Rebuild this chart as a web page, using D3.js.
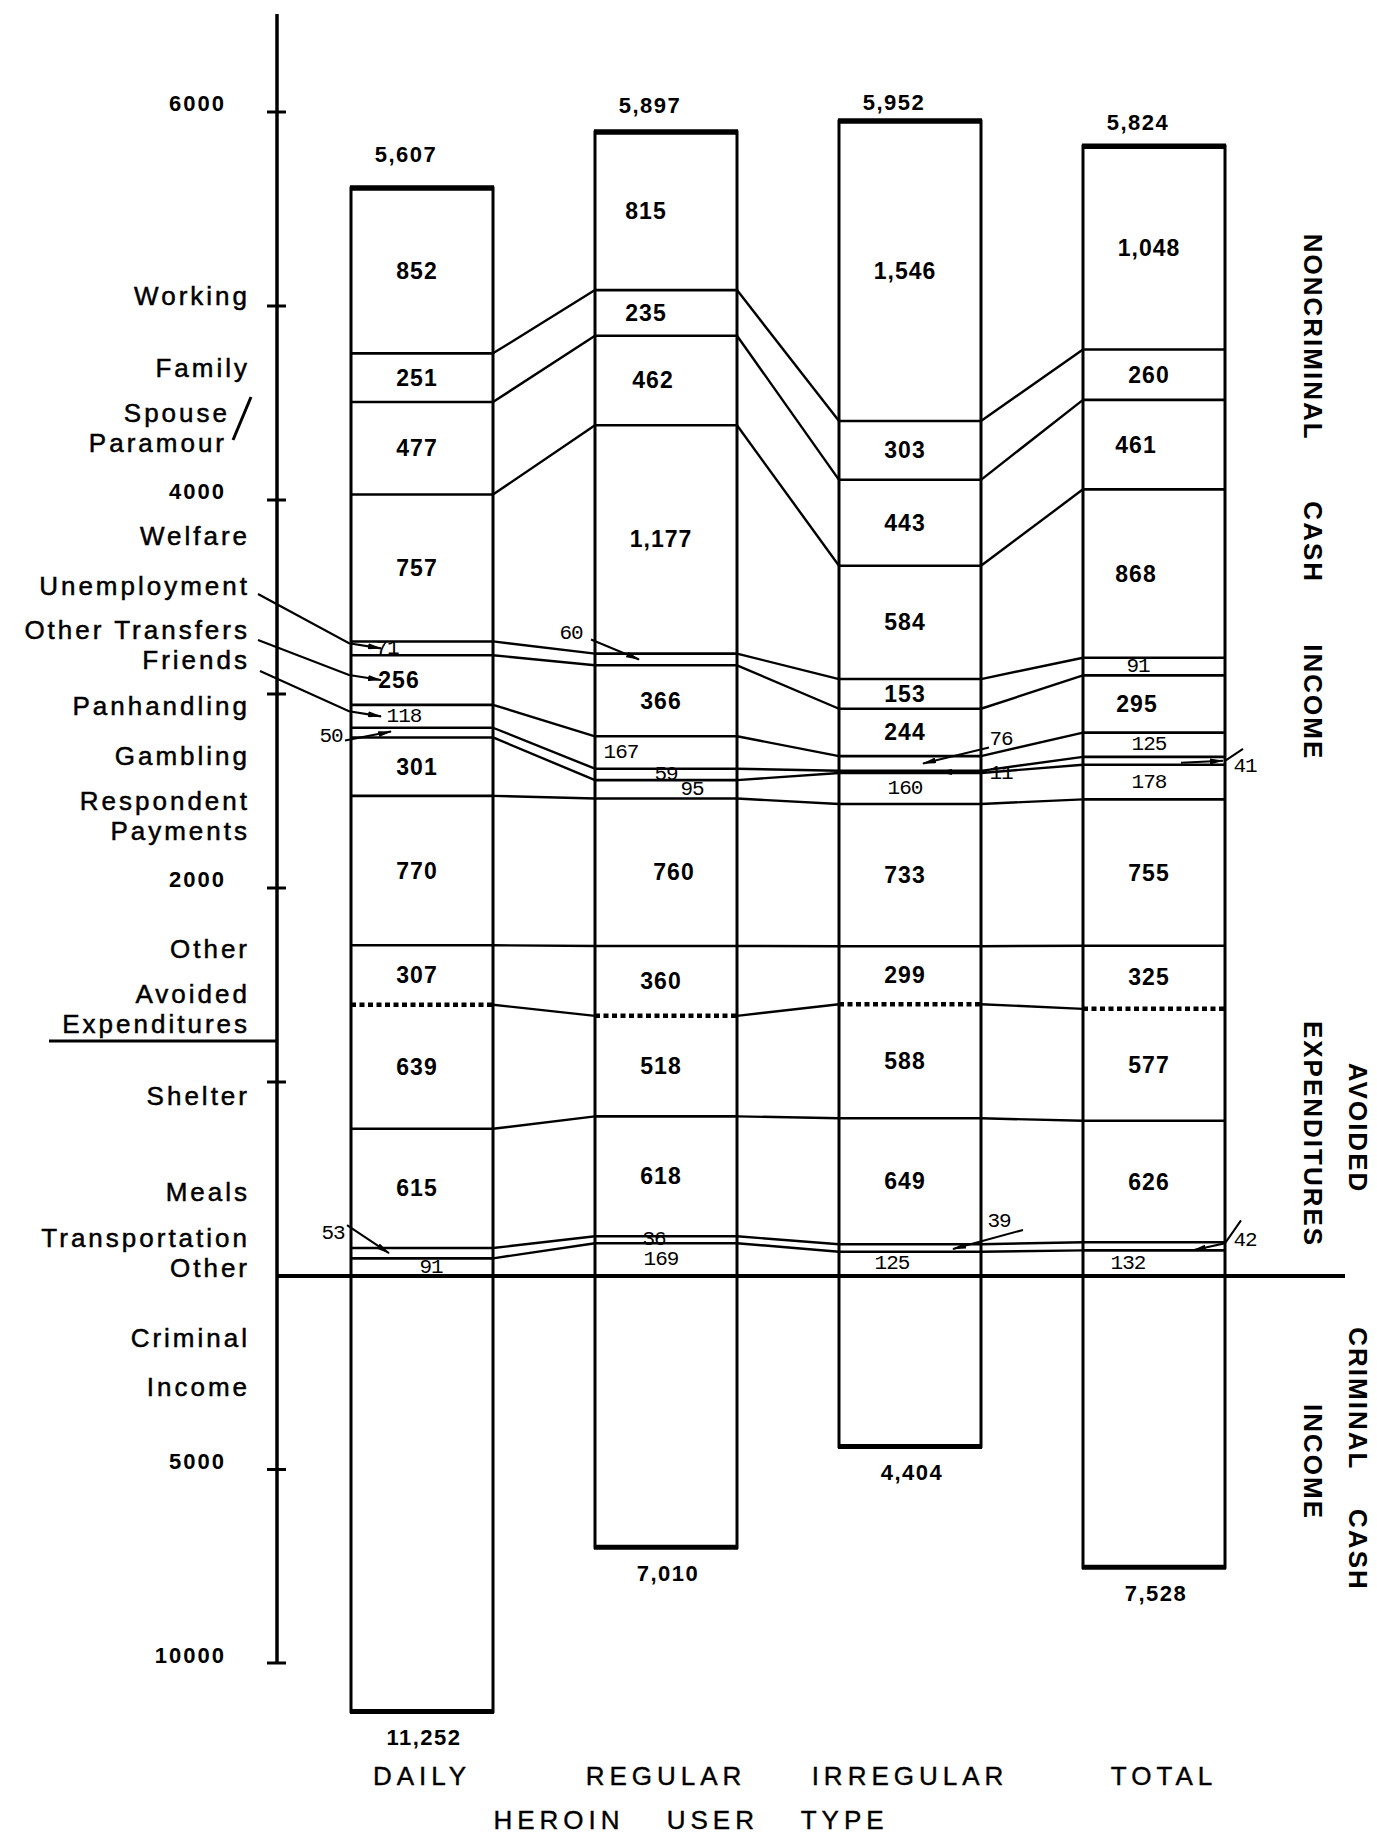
<!DOCTYPE html>
<html><head><meta charset="utf-8">
<script src="https://cdn.jsdelivr.net/npm/d3@7"></script>
<style>
body{margin:0;background:#fff;}
svg{display:block;}
</style></head><body>
<svg id="chart" width="1377" height="1837"></svg>
<script>
// ---------- DATA ----------
const categories = ["DAILY", "REGULAR", "IRREGULAR", "TOTAL"];
// components from bottom (first) to top (last); first 4 are avoided expenditures
const components = ["Other", "Transportation", "Meals", "Shelter",
  "Other", "Respondent Payments", "Gambling", "Panhandling", "Friends",
  "Other Transfers", "Unemployment", "Welfare", "Spouse/Paramour", "Family", "Working"];
const avoidedCount = 4;
const daily     = [91, 53, 615, 639, 307, 770, 301, 50, 118, 256, 71, 757, 477, 251, 852];
const regular   = [169, 36, 618, 518, 360, 760, 95, 59, 167, 366, 60, 1177, 462, 235, 815];
const irregular = [125, 39, 649, 588, 299, 733, 160, 11, 76, 244, 153, 584, 443, 303, 1546];
const total     = [132, 42, 626, 577, 325, 755, 178, 41, 125, 295, 91, 868, 461, 260, 1048];
const noncriminalTotals = [5607, 5897, 5952, 5824];
const criminalIncome = [11252, 7010, 4404, 7528];
const upperTicks = [1000, 2000, 3000, 4000, 5000, 6000];
const upperTickLabels = ["", "2000", "", "4000", "", "6000"];
const lowerTicks = [5000, 10000];
const lowerTickLabels = ["5000", "10000"];

// ---------- LAYOUT ----------
const W = 1377, H = 1837;
const y0 = 1276, axisX = 277;
const yUp = d3.scaleLinear().domain([0, 6000]).range([y0, 112]);
const yLow = d3.scaleLinear().domain([0, 10000]).range([y0, 1663]);
const x = d3.scaleBand().domain(categories).range([351, 1225]).paddingInner(0.418).paddingOuter(0);
const bw = x.bandwidth();
const left = i => x(categories[i]);
const right = i => x(categories[i]) + bw;
const cx = i => x(categories[i]) + bw / 2;

const series = [daily, regular, irregular, total];
const stacks = series.map(s => [0, ...d3.cumsum(s)]);
const mid = (i, k) => (yUp(stacks[i][k]) + yUp(stacks[i][k + 1])) / 2;
const fmt = d3.format(",");

const svg = d3.select("#chart");
svg.append("rect").attr("width", W).attr("height", H).attr("fill", "#fff");
const defs = svg.append("defs");
defs.append("marker").attr("id", "arrow").attr("viewBox", "0 0 14 6")
  .attr("refX", 13).attr("refY", 3).attr("markerWidth", 14).attr("markerHeight", 6)
  .attr("markerUnits", "userSpaceOnUse").attr("orient", "auto")
  .append("path").attr("d", "M0,0 L14,3 L0,6 Z").attr("fill", "#000");

const mainFont = "'Liberation Sans', Arial, sans-serif";
const typeFont = "'Liberation Mono', 'DejaVu Sans Mono', monospace";

// ---------- CONNECTORS ----------
const gConn = svg.append("g").attr("stroke", "#000").attr("stroke-width", 2.4).attr("fill", "none");
for (let i = 0; i < categories.length - 1; i++) {
  for (let k = 1; k < components.length; k++) {
    gConn.append("line")
      .attr("x1", right(i)).attr("y1", yUp(stacks[i][k]))
      .attr("x2", left(i + 1)).attr("y2", yUp(stacks[i + 1][k]));
  }
}

// ---------- BARS ----------
const gBars = svg.append("g");
categories.forEach((c, i) => {
  const top = stacks[i][components.length];
  for (let k = 1; k < components.length; k++) {
    const ln = gBars.append("line")
      .attr("x1", left(i)).attr("x2", right(i))
      .attr("y1", yUp(stacks[i][k])).attr("y2", yUp(stacks[i][k]))
      .attr("stroke", "#000");
    if (k === avoidedCount) ln.attr("stroke-width", 4.5).attr("stroke-dasharray", "5,3.5");
    else ln.attr("stroke-width", 2.6);
  }
  gBars.append("rect").attr("x", left(i)).attr("y", yUp(top))
    .attr("width", bw).attr("height", y0 - yUp(top))
    .attr("fill", "none").attr("stroke", "#000").attr("stroke-width", 3);
  gBars.append("line").attr("x1", left(i) - 1).attr("x2", right(i) + 1)
    .attr("y1", yUp(top)).attr("y2", yUp(top)).attr("stroke", "#000").attr("stroke-width", 5.5);
  gBars.append("rect").attr("x", left(i)).attr("y", y0)
    .attr("width", bw).attr("height", yLow(criminalIncome[i]) - y0)
    .attr("fill", "none").attr("stroke", "#000").attr("stroke-width", 3);
  gBars.append("line").attr("x1", left(i) - 1).attr("x2", right(i) + 1)
    .attr("y1", yLow(criminalIncome[i])).attr("y2", yLow(criminalIncome[i]))
    .attr("stroke", "#000").attr("stroke-width", 5);
});

// ---------- AXIS ----------
const gAxis = svg.append("g");
gAxis.append("line").attr("x1", axisX).attr("x2", axisX).attr("y1", 14).attr("y2", yLow(10000))
  .attr("stroke", "#000").attr("stroke-width", 3.5);
upperTicks.forEach((t, j) => {
  gAxis.append("line").attr("x1", axisX - 10).attr("x2", axisX + 9)
    .attr("y1", yUp(t)).attr("y2", yUp(t)).attr("stroke", "#000").attr("stroke-width", 3);
  if (upperTickLabels[j]) gAxis.append("text").attr("x", 226).attr("y", yUp(t) - 9)
    .attr("text-anchor", "end").attr("dominant-baseline", "central")
    .attr("font-family", mainFont).attr("font-weight", "bold").attr("font-size", 22)
    .attr("letter-spacing", 2).text(upperTickLabels[j]);
});
lowerTicks.forEach((t, j) => {
  gAxis.append("line").attr("x1", axisX - 10).attr("x2", axisX + 9)
    .attr("y1", yLow(t)).attr("y2", yLow(t)).attr("stroke", "#000").attr("stroke-width", 3);
  gAxis.append("text").attr("x", 226).attr("y", yLow(t) - 8)
    .attr("text-anchor", "end").attr("dominant-baseline", "central")
    .attr("font-family", mainFont).attr("font-weight", "bold").attr("font-size", 22)
    .attr("letter-spacing", 2).text(lowerTickLabels[j]);
});
svg.append("line").attr("x1", axisX).attr("x2", 1345).attr("y1", y0).attr("y2", y0)
  .attr("stroke", "#000").attr("stroke-width", 4);
svg.append("line").attr("x1", 49).attr("x2", axisX).attr("y1", 1041).attr("y2", 1041)
  .attr("stroke", "#000").attr("stroke-width", 3);

// ---------- LEFT COMPONENT LABELS ----------
const leftLabels = [
  {t: ["Working"], y: [296]},
  {t: ["Family"], y: [368]},
  {t: ["Spouse", "Paramour"], y: [413, 443], x: [230, 227]},
  {t: ["Welfare"], y: [536]},
  {t: ["Unemployment"], y: [586], leader: 10, start: [258, 594]},
  {t: ["Other Transfers"], y: [630], leader: 9, start: [258, 640]},
  {t: ["Friends"], y: [660], leader: 8, start: [260, 671]},
  {t: ["Panhandling"], y: [706]},
  {t: ["Gambling"], y: [756]},
  {t: ["Respondent", "Payments"], y: [801, 831]},
  {t: ["Other"], y: [949]},
  {t: ["Avoided", "Expenditures"], y: [994, 1024]},
  {t: ["Shelter"], y: [1096]},
  {t: ["Meals"], y: [1192]},
  {t: ["Transportation", "Other"], y: [1238, 1268]},
  {t: ["Criminal"], y: [1338]},
  {t: ["Income"], y: [1387]}
];
const gLeft = svg.append("g").attr("font-family", mainFont).attr("font-size", 26)
  .attr("letter-spacing", 3).attr("text-anchor", "end").attr("fill", "#000")
  .attr("stroke", "#000").attr("stroke-width", 0.5);
leftLabels.forEach(L => {
  L.t.forEach((s, j) => {
    gLeft.append("text").attr("x", L.x ? L.x[j] : 250).attr("y", L.y[j])
      .attr("dominant-baseline", "central").text(s);
  });
  if (L.leader !== undefined) {
    const m = mid(0, L.leader);
    svg.append("path")
      .attr("d", `M${L.start[0]},${L.start[1]} L${left(0) - 2},${m - 5} L${left(0) + 30},${m}`)
      .attr("fill", "none").attr("stroke", "#000").attr("stroke-width", 2.2)
      .attr("marker-end", "url(#arrow)");
  }
});
svg.append("line").attr("x1", 251).attr("y1", 397).attr("x2", 233).attr("y2", 440)
  .attr("stroke", "#000").attr("stroke-width", 3);

// ---------- SEGMENT VALUE LABELS ----------
const nudge = {
  "0-10": -35, "0-9": -23, "0-8": -18, "0-0": 9,
  "1-14": -20, "1-13": -20, "1-12": -13, "1-8": -45, "1-7": 0, "1-6": 26, "1-5": 8, "1-1": -12,
  "2-0": -18,
  "3-12": -18, "3-11": -18, "3-10": -16, "3-9": -17, "3-0": -26
};
const boldSmall = new Set(["2-10"]);
const callouts = [
  {i: 0, k: 7, lab: (b, m) => [left(b) - 20, m + 4], path: (b, m) => `M${left(b) - 6},${m + 8} L${left(b) + 40},${m - 1}`, arrow: true},
  {i: 0, k: 1, lab: (b, m) => [left(b) - 18, m - 20], path: (b, m) => `M${left(b) - 4},${m - 28} L${left(b) + 38},${m}`, arrow: true},
  {i: 1, k: 10, lab: (b, m) => [left(b) - 24, m - 26], path: (b, m) => `M${left(b) - 4},${m - 20} L${left(b) + 44},${m}`, arrow: true},
  {i: 2, k: 8, lab: (b, m) => [right(b) + 20, m - 24], path: (b, m) => `M${right(b) + 8},${m - 16} L${right(b) - 58},${m}`, arrow: true},
  {i: 2, k: 7, lab: (b, m) => [right(b) + 20, m + 2], path: (b, m) => `M${right(b) + 6},${m} L${right(b) - 42},${m}`, arrow: true},
  {i: 2, k: 1, lab: (b, m) => [right(b) + 18, m - 26], path: (b, m) => `M${right(b) + 42},${m - 18} L${right(b) - 28},${m + 1}`, arrow: true},
  {i: 3, k: 7, lab: (b, m) => [right(b) + 20, m + 6], path: (b, m) => `M${right(b) + 18},${m - 12} L${right(b)},${m}`, extra: (b, m) => `M${right(b) - 44},${m + 2} L${right(b) - 2},${m}`, arrow: false},
  {i: 3, k: 1, lab: (b, m) => [right(b) + 20, m - 6], path: (b, m) => `M${right(b) + 16},${m - 26} L${right(b)},${m - 3} L${right(b) - 32},${m + 4}`, arrow: true}
];
const calloutKeys = new Set(callouts.map(c => `${c.i}-${c.k}`));

const gVals = svg.append("g").attr("fill", "#000");
series.forEach((s, i) => {
  s.forEach((v, k) => {
    const key = `${i}-${k}`;
    if (calloutKeys.has(key)) return;
    const small = v < 200 && !boldSmall.has(key);
    const dx = nudge[key] !== undefined ? nudge[key] : -5;
    gVals.append("text").attr("x", cx(i) + dx).attr("y", mid(i, k))
      .attr("text-anchor", "middle").attr("dominant-baseline", "central")
      .attr("font-family", small ? typeFont : mainFont)
      .attr("font-weight", small ? "normal" : "bold")
      .attr("font-size", small ? 21 : 23)
      .attr("letter-spacing", small ? -1 : 1)
      .text(fmt(v));
  });
});
callouts.forEach(c => {
  const m = mid(c.i, c.k);
  const p = c.lab(c.i, m);
  gVals.append("text").attr("x", p[0]).attr("y", p[1])
    .attr("text-anchor", "middle").attr("dominant-baseline", "central")
    .attr("font-family", typeFont).attr("font-size", 21).attr("letter-spacing", -1)
    .text(fmt(series[c.i][c.k]));
  const path = svg.append("path").attr("d", c.path(c.i, m)).attr("fill", "none")
    .attr("stroke", "#000").attr("stroke-width", 2);
  if (c.arrow) path.attr("marker-end", "url(#arrow)");
  if (c.extra) svg.append("path").attr("d", c.extra(c.i, m)).attr("fill", "none")
    .attr("stroke", "#000").attr("stroke-width", 2).attr("marker-end", "url(#arrow)");
});

// ---------- TOTAL LABELS ----------
const topGap = [34, 26, 19, 24];
categories.forEach((c, i) => {
  const top = stacks[i][components.length];
  svg.append("text").attr("x", cx(i) - 16).attr("y", yUp(top) - topGap[i])
    .attr("text-anchor", "middle").attr("dominant-baseline", "central")
    .attr("font-family", mainFont).attr("font-weight", "bold").attr("font-size", 22)
    .attr("letter-spacing", 1.5).text(fmt(noncriminalTotals[i]));
  svg.append("text").attr("x", cx(i) + 2).attr("y", yLow(criminalIncome[i]) + 26)
    .attr("text-anchor", "middle").attr("dominant-baseline", "central")
    .attr("font-family", mainFont).attr("font-weight", "bold").attr("font-size", 22)
    .attr("letter-spacing", 1.5).text(fmt(criminalIncome[i]));
  svg.append("text").attr("x", cx(i) + (i === 3 ? 10 : 0)).attr("y", 1776)
    .attr("text-anchor", "middle").attr("dominant-baseline", "central")
    .attr("font-family", mainFont).attr("font-size", 26).attr("letter-spacing", 5)
    .attr("stroke", "#000").attr("stroke-width", 0.4).text(c);
});
svg.append("text").attr("x", 691).attr("y", 1820)
  .attr("text-anchor", "middle").attr("dominant-baseline", "central")
  .attr("font-family", mainFont).attr("font-size", 26).attr("letter-spacing", 5)
  .attr("word-spacing", 30).attr("stroke", "#000").attr("stroke-width", 0.4)
  .text("HEROIN USER TYPE");

// ---------- RIGHT SECTION LABELS ----------
const sideLabels = [
  {t: "NONCRIMINAL CASH INCOME", x: 1313, y: 497, ws: 52},
  {t: "AVOIDED", x: 1358, y: 1128, ws: 0},
  {t: "EXPENDITURES", x: 1313, y: 1134, ws: 0},
  {t: "CRIMINAL CASH", x: 1358, y: 1459, ws: 30},
  {t: "INCOME", x: 1313, y: 1462, ws: 0}
];
sideLabels.forEach(s => {
  svg.append("text").attr("transform", `translate(${s.x},${s.y}) rotate(90)`)
    .attr("text-anchor", "middle").attr("dominant-baseline", "central")
    .attr("font-family", mainFont).attr("font-weight", "bold").attr("font-size", 26)
    .attr("letter-spacing", 2).attr("word-spacing", s.ws).text(s.t);
});
</script>
</body></html>
